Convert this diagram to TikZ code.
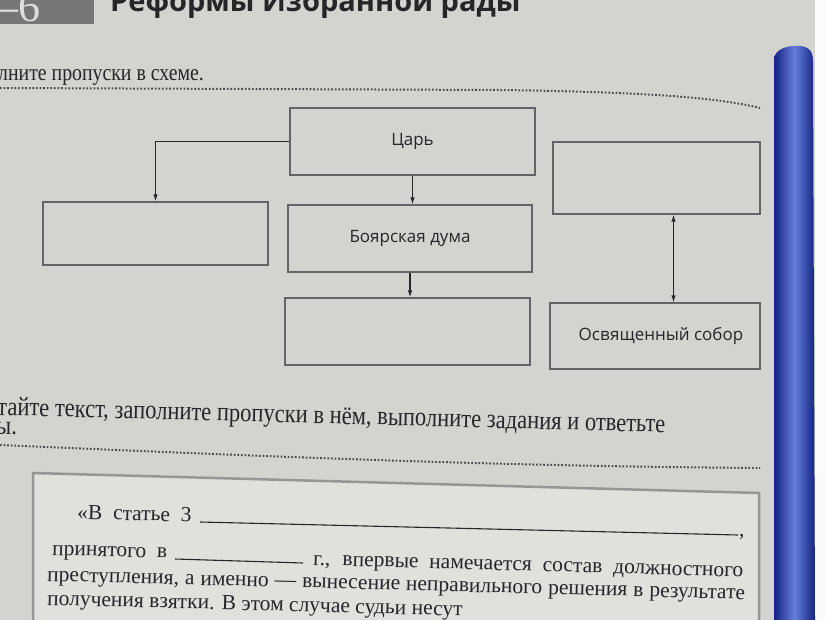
\documentclass[tikz,border=0pt]{standalone}
\usepackage{fontspec}
\setmainfont{Liberation Serif}
\newfontfamily\schemefont{Open Sans}
\newfontfamily\taskfont[FakeStretch=0.85]{Liberation Serif}
\usetikzlibrary{arrows.meta,calc}
\definecolor{paper}{RGB}{211,211,207}
\definecolor{boxline}{RGB}{100,100,100}
\definecolor{ink}{RGB}{38,38,38}
\definecolor{dotgray}{RGB}{75,75,75}
\definecolor{headgray}{RGB}{118,118,116}
\definecolor{framegray}{RGB}{150,150,148}
\definecolor{framefill}{RGB}{224,224,221}
\definecolor{penblue}{RGB}{35,70,205}
\definecolor{pendark}{RGB}{20,35,130}
\tikzset{
  box/.style={draw=boxline, line width=1.1pt, inner sep=0pt, text=ink,
    font=\schemefont\fontsize{17}{19}\selectfont},
  arr/.style={draw=ink, line width=1.2pt, -{Latex[length=7pt,width=4.5pt]}},
  dots/.style={draw=dotgray, line width=2pt, dash pattern=on 1.7pt off 1.9pt},
  task/.style={anchor=base west, inner sep=0pt, text=ink},
  para/.style={anchor=base west, inner sep=0pt, text=ink, font=\fontsize{21.5}{24}\selectfont},
}

\begin{document}
\begin{tikzpicture}[x=1pt,y=-1pt]
\useasboundingbox (0,0) rectangle (826,620); \clip (0,0) rectangle (826,620);
\fill[paper] (0,0) rectangle (826,620);
% page head
\fill[headgray] (0,0) rectangle (94,24);
\node[anchor=base west, inner sep=0pt, text=white!75!headgray, font=\fontsize{44}{44}\selectfont] (num) at (-4,22) {–6};
\node[anchor=base west, inner sep=0pt, text=ink, font=\schemefont\bfseries\fontsize{29}{29}\selectfont] (head) at (110,12) {Реформы Избранной рады};
% task 1
\node[task, font=\taskfont\fontsize{23.3}{26}\selectfont] (task1) at (-2,81) {лните пропуски в схеме.};
\draw[dots] (0,88) -- (500,90) .. controls (650,92) and (720,98) .. (760,108);
% scheme
\node[box, minimum width=245pt, minimum height=67pt] (tsar) at (412.5,141.5) {Царь};
\node[box, minimum width=225pt, minimum height=63pt] (left) at (155.5,233.5) {};
\node[box, minimum width=244pt, minimum height=67pt] (duma) at (410,238.5) {Боярская дума};
\node[box, minimum width=245pt, minimum height=67pt] (low) at (407.5,331.5) {};
\node[box, minimum width=207pt, minimum height=72pt] (right) at (656.5,178) {};
\node[box, minimum width=210pt, minimum height=66pt] (sobor) at (655,336) {\hspace*{12pt}Освященный собор};
\draw[arr] (tsar.west) -| (left.north);
\draw[arr] (tsar.south) -- (tsar.south |- duma.north);
\draw[arr] (duma.south) -- (duma.south |- low.north);
\coordinate (rs) at ([xshift=17pt]right.south);
\draw[arr, {Latex[length=7pt,width=4.5pt]}-{Latex[length=7pt,width=4.5pt]}] (rs) -- (rs |- sobor.north);
% task 2
\node[task, font=\taskfont\fontsize{26.5}{28}\selectfont, rotate=-1.5] (task2) at (-3,415) {тайте текст, заполните пропуски в нём, выполните задания и ответьте};
\node[task, font=\taskfont\fontsize{26.5}{28}\selectfont] (task2b) at (-4,434) {ы.};
\draw[dots] (0,445) .. controls (300,458) and (500,466) .. (760,468);
% text frame
\filldraw[fill=framefill, draw=framegray, line width=2.5pt] (33,473) -- (759,493) -- (759,630) -- (33,630) -- cycle;
\node[para, rotate=-1.4] (l1) at (77,519) {«В\ \ статье\ \ 3};
\coordinate (g1a) at (200,522); \coordinate (g1b) at (738,535);
\draw[ink, line width=1.1pt] (g1a) -- (g1b);
\node[para] (c1) at (739,536) {,};
\node[para, rotate=-1.6] (l2) at (52,555) {принятого\ \ в};
\coordinate (g2a) at (175,559); \coordinate (g2b) at (303,563);
\draw[ink, line width=1.1pt] (g2a) -- (g2b);
\node[para, rotate=-1.6] (l2b) at (313,565) {\makebox[430pt][s]{г., впервые намечается состав должностного}};
\node[para, rotate=-1.5] (l3) at (47,581) {\makebox[698pt][s]{преступления, а именно — вынесение неправильного решения в результате}};
\node[para, rotate=-1.5] (l4) at (47,605) {получения взятки. В этом случае судьи несут};
% pen
\fill[white!92!paper] (815,0) rectangle (826,620);
\shade[left color=pendark, right color=pendark, middle color=penblue!70!white]
  (774,620) -- (774,60) .. controls (774,48) and (790,45) .. (800,46) .. controls (810,47) and (813,52) .. (813,62) -- (815,620) -- cycle;
\end{tikzpicture}
\end{document}
